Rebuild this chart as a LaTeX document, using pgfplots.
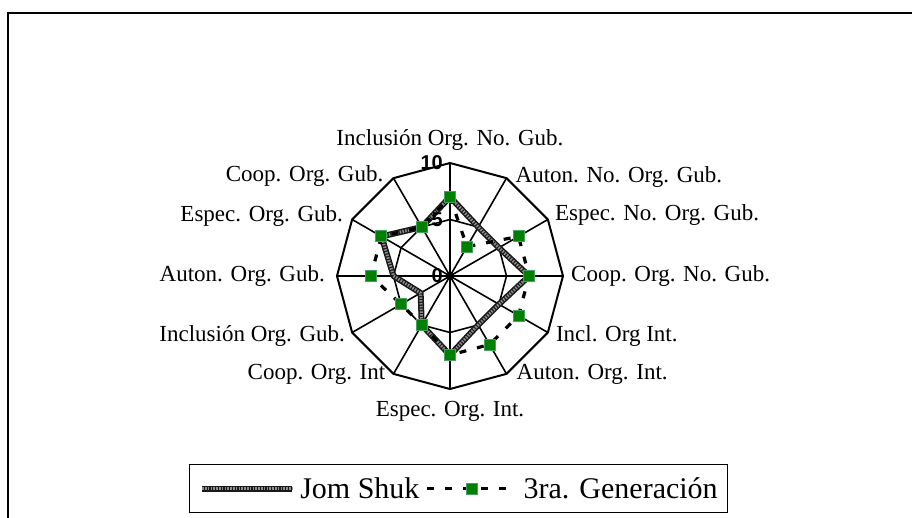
\documentclass[border=0pt]{standalone}
\usepackage{fontspec}
\setmainfont{Liberation Serif}
\newfontfamily\timesfont{Liberation Serif}
\newfontfamily\arialfont{Liberation Sans}
\usepackage{pgfplots}
\pgfplotsset{compat=1.18}
\definecolor{mkgreen}{RGB}{0,128,0}
\definecolor{mkedge}{RGB}{70,160,100}
\begin{document}
\begin{tikzpicture}
\path[use as bounding box] (-450pt,-241pt) rectangle (462pt,276pt);
\draw[line width=2.5pt] (-442pt,263pt) rectangle (520pt,-320pt);
\begin{axis}[at={(0pt,0pt)}, anchor=center, x=11.3pt, y=11.3pt,
  xmin=-10, xmax=10, ymin=-10, ymax=10, hide axis, clip=false,
  legend columns=-1,
  legend style={at={(0.5376,-0.4403)}, anchor=center, draw=black, line width=1.5pt,
    inner xsep=10pt, inner ysep=13pt, font=\timesfont\fontsize{30}{30}\selectfont,
    nodes={inner sep=0pt},
    /tikz/every odd column/.append style={column sep=5pt},
    /tikz/every even column/.append style={column sep=6pt}},
  legend image code/.code={\draw[mark repeat=2, mark phase=2, #1] plot coordinates {(0pt,0pt)(45pt,0pt)(90pt,0pt)};},
  ]
% grid polygons
\addplot[forget plot, black, line width=2pt, line join=round, data cs=polar] coordinates {(90,10)(60,10)(30,10)(0,10)(-30,10)(-60,10)(-90,10)(-120,10)(-150,10)(180,10)(150,10)(120,10)(90,10)(60,10)};
\addplot[forget plot, black, line width=1.6pt, line join=round, data cs=polar] coordinates {(90,5)(60,5)(30,5)(0,5)(-30,5)(-60,5)(-90,5)(-120,5)(-150,5)(180,5)(150,5)(120,5)(90,5)(60,5)};
% spokes
\addplot[forget plot, black, line width=1.6pt, data cs=polar] coordinates {(90,10)(0,0)(60,10)(0,0)(30,10)(0,0)(0,10)(0,0)(-30,10)(0,0)(-60,10)(0,0)(-90,10)(0,0)(-120,10)(0,0)(-150,10)(0,0)(180,10)(0,0)(150,10)(0,0)(120,10)(0,0)};
% series
\addplot[black!90, line width=6pt, line join=round, data cs=polar,
  postaction={draw=black!45, line width=3pt, dash pattern=on 1.5pt off 1.3pt}]
  coordinates {(90,7)(60,5)(30,5)(0,7)(-30,5)(-60,5)(-90,7)(-120,5)(-150,3)(180,5)(150,7)(120,5)(90,7)};
\addlegendentry{Jom Shuk}
\addplot[black, line width=3.2pt, dash pattern=on 7pt off 11pt, data cs=polar,
  mark=square*, mark size=5.5pt, mark options={solid, fill=mkgreen, draw=mkedge, line width=1pt}]
  coordinates {(90,7)(60,3)(30,7)(0,7)(-30,7)(-60,7)(-90,7)(-120,5)(-150,5)(180,7)(150,7)(120,5)(90,7)};
\addlegendentry{3ra. Generación}
% tick labels
\node[anchor=east, font=\arialfont\bfseries\fontsize{20}{20}\selectfont, inner sep=0pt, xshift=-7pt] at (axis cs:0,10) {10};
\node[anchor=east, font=\arialfont\bfseries\fontsize{20}{20}\selectfont, inner sep=0pt, xshift=-7pt] at (axis cs:0,5) {5};
\node[anchor=east, font=\arialfont\bfseries\fontsize{20}{20}\selectfont, inner sep=0pt, xshift=-7pt] at (axis cs:0,0) {0};
% category labels
\begin{scope}[every node/.style={font=\timesfont\fontsize{23}{25}\selectfont, inner sep=0pt}]
\node[anchor=base, yshift=18pt] at (axis cs:0,10) {Inclusión Org. No. Gub.};
\node[anchor=west, xshift=9pt, yshift=1pt] at (axis cs:5,8.660) {Auton. No. Org. Gub.};
\node[anchor=west, xshift=7pt, yshift=5pt] at (axis cs:8.660,5) {Espec. No. Org. Gub.};
\node[anchor=west, xshift=8pt] at (axis cs:10,0) {Coop. Org. No. Gub.};
\node[anchor=west, xshift=8pt, yshift=-3pt] at (axis cs:8.660,-5) {Incl. Org Int.};
\node[anchor=west, xshift=10pt, yshift=-1pt] at (axis cs:5,-8.660) {Auton. Org. Int.};
\node[anchor=base, yshift=-27pt] at (axis cs:0,-10) {Espec. Org. Int.};
\node[anchor=east, xshift=-8pt, yshift=-1pt] at (axis cs:-5,-8.660) {Coop. Org. Int};
\node[anchor=east, xshift=-7pt, yshift=-3pt] at (axis cs:-8.660,-5) {Inclusión Org. Gub.};
\node[anchor=east, xshift=-12pt] at (axis cs:-10,0) {Auton. Org. Gub.};
\node[anchor=east, xshift=-9pt, yshift=4pt] at (axis cs:-8.660,5) {Espec. Org. Gub.};
\node[anchor=east, xshift=-10pt, yshift=2pt] at (axis cs:-5,8.660) {Coop. Org. Gub.};
\end{scope}
\end{axis}
\end{tikzpicture}
\end{document}
